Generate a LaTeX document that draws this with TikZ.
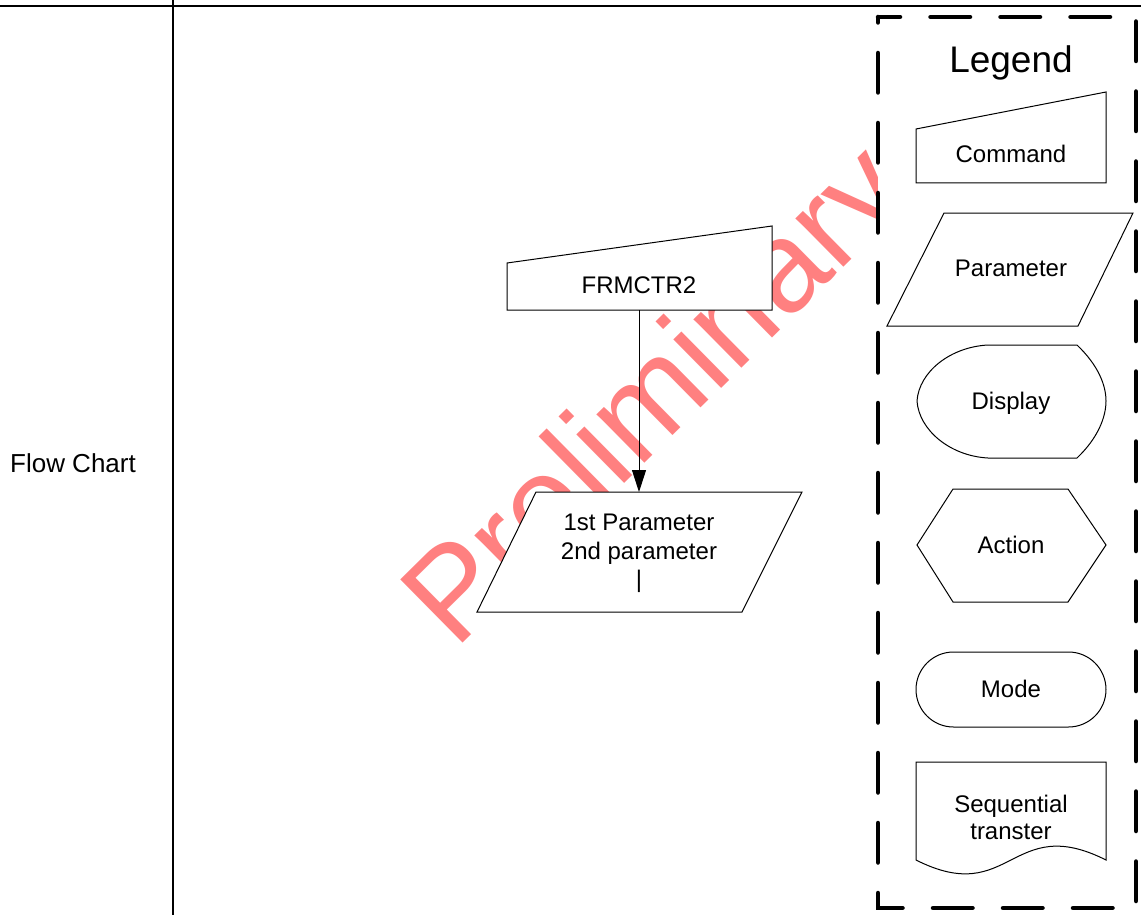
\documentclass[tikz,border=0pt]{standalone}
\usepackage{fontspec}
\setmainfont{Liberation Sans}
\usetikzlibrary{arrows.meta}
\definecolor{wmred}{RGB}{255,128,128}
\tikzset{
  lbl/.style={font=\fontsize{24}{29}\selectfont, inner sep=0pt, anchor=base},
  shp/.style={draw=black, fill=white, line width=1pt, line join=miter},
  sep/.style={line width=2pt, draw=black},
}
\begin{document}
\begin{tikzpicture}[x=1pt,y=-1pt]
\useasboundingbox (0,0) rectangle (1141,915);
\fill[white] (0,0) rectangle (1141,915);
% watermark
\node[font=\fontsize{129}{135}\selectfont, text=wmred, rotate=44.6, anchor=base west, inner sep=0pt] (wm) at (455,651) {Preliminary};
% frame lines
\coordinate (hl) at (0,6); \coordinate (hr) at (1141,6);
\coordinate (vt) at (173,0); \coordinate (vb) at (173,915);
\draw[sep] (hl) -- (hr);
\draw[sep] (vt) -- (vb);
\node[lbl, font=\fontsize{26}{30}\selectfont] (fc) at (73,472) {Flow Chart};
% legend box
\fill[white] (878,17) rectangle (1136,908);
\draw[line width=4.5pt, line cap=round, dash pattern=on 39.5pt off 30.5pt, dash phase=17.5pt]
  (878,17) -- (1136,17) -- (1136,908) -- (878,908) -- cycle;
\node[lbl, font=\fontsize{37}{40}\selectfont] (leg) at (1011,73) {Legend};
% legend shapes
\draw[shp] (916,129) -- (1106,92) -- (1106,183) -- (916,183) -- cycle;
\node[lbl] (lcmd) at (1011,163) {Command};
\draw[shp] (944,213) -- (1133,213) -- (1078,326) -- (887,326) -- cycle;
\node[lbl] (lpar) at (1011,276) {Parameter};
\draw[shp] (988,345) -- (1077,345) .. controls (1098,365) and (1106,385) .. (1106,401)
  .. controls (1106,417) and (1098,438) .. (1077,458) -- (988,458)
  .. controls (950,456) and (919,430) .. (917,401)
  .. controls (919,372) and (950,347) .. (988,345) -- cycle;
\node[lbl] (ldis) at (1011,409) {Display};
\draw[shp] (917,545) -- (953,489) -- (1068,489) -- (1106,545) -- (1068,602) -- (953,602) -- cycle;
\node[lbl] (lact) at (1011,553) {Action};
\draw[shp, rounded corners=37.5pt] (916,652) rectangle (1106,727);
\node[lbl] (lmod) at (1011,697) {Mode};
\draw[shp] (916,762) -- (1106,762) -- (1106,860) .. controls (1011,812) and (1011,908) .. (916,860) -- cycle;
\node[lbl] (lseq1) at (1011,812) {Sequential};
\node[lbl] (lseq2) at (1011,839) {transter};
% main flow
\draw[shp] (507,263) -- (772,226) -- (772,310) -- (507,310) -- cycle;
\node[lbl] (frm) at (639,293) {FRMCTR2};
\draw[shp] (536,492) -- (802,492) -- (742,612) -- (477,612) -- cycle;
\node[lbl] (p1) at (639,530) {1st Parameter};
\node[lbl] (p2) at (639,559) {2nd parameter};
\node[lbl] (p3) at (639,587) {|};
\coordinate (frmbot) at (639,310);
\coordinate (partop) at (639,492);
\draw[line width=1pt, -{Triangle[length=22pt,width=14pt]}] (frmbot) -- (partop);
\end{tikzpicture}
\end{document}
